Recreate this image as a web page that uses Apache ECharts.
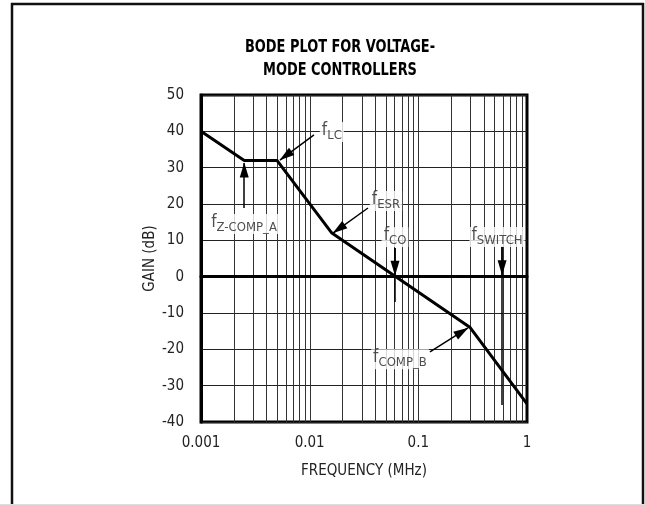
<!DOCTYPE html>
<html>
<head>
<meta charset="utf-8">
<script src="https://cdn.jsdelivr.net/npm/echarts@6/dist/echarts.min.js"></script>
<style>
html,body{margin:0;padding:0;background:#fff;}
#chart{width:645px;height:505px;}
</style>
</head>
<body>
<div id="chart"></div>
<script>
// ---- data ----
const freq = [0.001, 0.0025, 0.005, 0.016, 0.3, 1];       // MHz
const gain = [40, 32, 32, 12, -14, -35];                   // dB
const xTickLabels = ['0.001', '0.01', '0.1', '1'];
const yMin = -40, yMax = 50, yStep = 10;

// annotations (data coordinates)
const annSub = ['LC', 'Z-COMP_A', 'ESR', 'CO', 'SWITCH', 'COMP_B'];
const annLabelX = [0.0160, 0.00249, 0.0504, 0.061, 0.53, 0.0678];
const annLabelY = [39.8, 14.5, 20.8, 10.9, 10.9, -22.7];
const arrowFrom = [[0.01096, 39.0], [0.0025, 18.9], [0.0344, 18.9], [0.061, 7.9], [0.59, 8.2], [0.128, -20.7]];
const arrowTo   = [[0.00533, 32.1], [0.0025, 31.3], [0.0164, 12.0], [0.061, 0.4], [0.59, 0.5], [0.286, -14.1]];
const stemFrom  = [[0.061, 7.9], [0.59, 8.2]];
const stemTo    = [[0.061, -7.0], [0.59, -35.3]];

// vertical log grid positions (1..9 per decade)
const gridX = [];
for (let d = -3; d < 0; d++) {
  for (let k = 1; k <= 9; k++) {
    if (k === 1 && d === -3) continue;
    gridX.push(k * Math.pow(10, d));
  }
}

const FONT = '"Liberation Sans Narrow","DejaVu Sans Condensed","Arial Narrow",sans-serif';

const chart = echarts.init(document.getElementById('chart'), null, {renderer: 'canvas'});

const labelData = annSub.map((s, i) => ({
  value: [annLabelX[i], annLabelY[i]],
  label: {formatter: '{f|f}{s|' + s + '}'}
}));

const option = {
  animation: false,
  backgroundColor: '#fff',
  grid: {left: 201, top: 95, width: 326, height: 327, show: true, borderColor: '#000', borderWidth: 3, backgroundColor: 'transparent'},
  graphic: [
    {type: 'line', shape: {x1: 12, y1: 3, x2: 12, y2: 505}, style: {stroke: '#111', lineWidth: 2.5}},
    {type: 'line', shape: {x1: 11, y1: 4, x2: 644, y2: 4}, style: {stroke: '#111', lineWidth: 2.5}},
    {type: 'line', shape: {x1: 643, y1: 3, x2: 643, y2: 505}, style: {stroke: '#111', lineWidth: 2.5}},
    {type: 'line', shape: {x1: 0, y1: 504.5, x2: 645, y2: 504.5}, style: {stroke: '#ddd', lineWidth: 1}},
    {type: 'text', x: 340, y: 47, scaleX: 0.8, style: {text: 'BODE PLOT FOR VOLTAGE-', textAlign: 'center', textVerticalAlign: 'middle', font: 'bold 18px ' + FONT, fill: '#000'}},
    {type: 'text', x: 340, y: 70, scaleX: 0.8, style: {text: 'MODE CONTROLLERS', textAlign: 'center', textVerticalAlign: 'middle', font: 'bold 18px ' + FONT, fill: '#000'}}
  ],
  xAxis: {
    type: 'log', logBase: 10, min: 0.001, max: 1,
    name: 'FREQUENCY (MHz)', nameLocation: 'middle', nameGap: 42, nameMoveOverlap: false,
    nameTextStyle: {fontFamily: FONT, fontSize: 15, color: '#222'},
    axisLine: {show: true, lineStyle: {color: '#000', width: 3}},
    axisTick: {show: false},
    splitLine: {show: false},
    axisLabel: {
      margin: 14, fontFamily: FONT, fontSize: 15, color: '#222',
      formatter: function (v, i) { return xTickLabels[i]; }
    }
  },
  yAxis: {
    type: 'value', min: yMin, max: yMax, interval: yStep,
    name: 'GAIN (dB)', nameLocation: 'middle', nameGap: 43, nameRotate: 90, nameMoveOverlap: false,
    nameTextStyle: {fontFamily: FONT, fontSize: 15, color: '#222'},
    axisLine: {show: true, lineStyle: {color: '#000', width: 3}},
    axisTick: {show: false},
    splitLine: {show: true, lineStyle: {color: '#222', width: 1}},
    axisLabel: {margin: 17, fontFamily: FONT, fontSize: 15, color: '#222'}
  },
  series: [
    {
      name: 'vgrid', type: 'custom', silent: true, z: 1,
      data: gridX.map(v => [v]),
      encode: {x: 0},
      renderItem: function (params, api) {
        const v = api.value(0);
        const p1 = api.coord([v, yMax]);
        const p2 = api.coord([v, yMin]);
        const x = Math.round(p1[0]) + 0.5;
        return {
          type: 'line',
          shape: {x1: x, y1: p1[1], x2: x, y2: p2[1]},
          style: {stroke: '#333', lineWidth: 1}
        };
      }
    },
    {
      name: 'zero', type: 'line', data: [], silent: true, z: 2,
      markLine: {
        silent: true, symbol: 'none', animation: false,
        label: {show: false},
        lineStyle: {color: '#000', width: 3, type: 'solid'},
        data: [{yAxis: 0}]
      }
    },
    {
      name: 'Gain', type: 'line', z: 5,
      data: freq.map((f, i) => [f, gain[i]]),
      showSymbol: false, symbol: 'none',
      lineStyle: {color: '#000', width: 3},
      markLine: {
        silent: true, animation: false,
        symbol: ['none', 'none'],
        label: {show: false},
        lineStyle: {color: '#000', width: 1.5, type: 'solid'},
        data: stemFrom.map((p, i) => [{coord: p}, {coord: stemTo[i]}])
      }
    },
    {
      name: 'arrows', type: 'line', data: [], silent: true, z: 6,
      markLine: {
        silent: true, animation: false,
        symbol: ['none', 'triangle'], symbolSize: [9, 15], symbolOffset: [0, [0, 7]],
        label: {show: false},
        lineStyle: {color: '#000', width: 1.5, type: 'solid'},
        itemStyle: {color: '#000'},
        data: arrowFrom.map((p, i) => [{coord: p}, {coord: arrowTo[i]}])
      }
    },
    {
      name: 'labels', type: 'scatter', z: 10, symbolSize: 0,
      data: labelData,
      label: {
        show: true, position: 'inside', backgroundColor: '#fff', padding: [0, 2],
        color: '#222',
        rich: {
          f: {fontFamily: FONT, fontSize: 17, lineHeight: 20, verticalAlign: 'top', color: '#222'},
          s: {fontFamily: FONT, fontSize: 13, lineHeight: 14, verticalAlign: 'bottom', color: '#222'}
        }
      }
    }
  ]
};
chart.setOption(option);
</script>
</body>
</html>
